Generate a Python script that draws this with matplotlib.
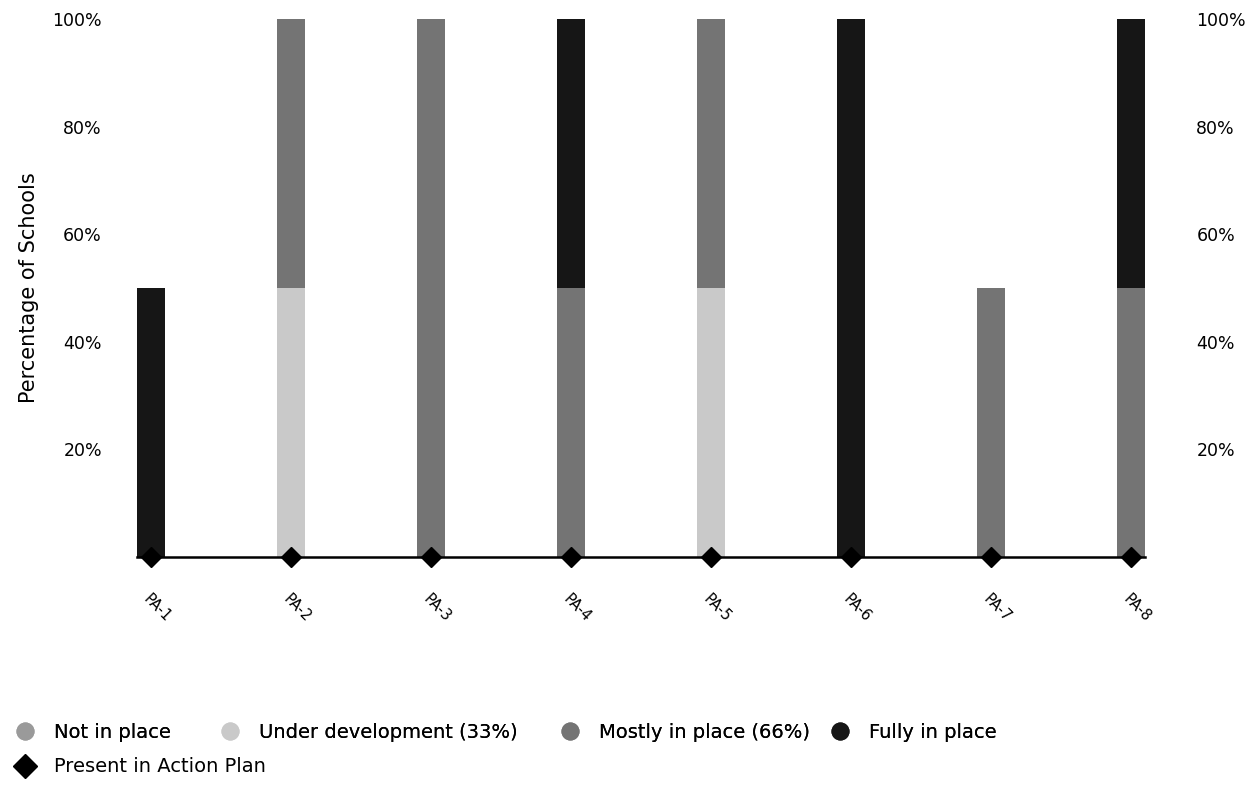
import numpy as np
import matplotlib.pyplot as plt
import matplotlib.transforms as mtransforms
from matplotlib.lines import Line2D

# --- Data ---
categories = ["PA-1", "PA-2", "PA-3", "PA-4", "PA-5", "PA-6", "PA-7", "PA-8"]
not_in_place = [0, 0, 0, 0, 0, 0, 0, 0]
under_development = [0, 50, 0, 0, 50, 0, 0, 0]
mostly_in_place = [0, 50, 100, 50, 50, 0, 50, 50]
fully_in_place = [50, 0, 0, 50, 0, 100, 0, 50]
action_plan = [0, 0, 0, 0, 0, 0, 0, 0]
y_ticks = [20, 40, 60, 80, 100]

series = [
    ("Not in place", not_in_place, "#9a9a9a"),
    ("Under development (33%)", under_development, "#c9c9c9"),
    ("Mostly in place (66%)", mostly_in_place, "#747474"),
    ("Fully in place", fully_in_place, "#161616"),
]

plt.rcParams['font.family'] = ['DejaVu Sans']

W, H = 1254, 790
fig = plt.figure(figsize=(W / 100, H / 100), dpi=100)
ax = fig.add_axes([0.109, 0.295, 0.804, 0.681])

x = np.arange(len(categories))
bottom = np.zeros(len(categories))
for name, vals, color in series:
    vals = np.array(vals, dtype=float)
    ax.bar(x, vals, width=0.2, bottom=bottom, color=color, edgecolor='none')
    bottom += vals

ax.plot(x, action_plan, linestyle='none', marker='D', markersize=10,
        color='black', clip_on=False, zorder=5)

ax.set_xlim(-0.1, len(categories) - 0.9)
ax.set_ylim(0, 100)
ax.set_yticks(y_ticks)
ax.set_yticklabels([f"{v}%" for v in y_ticks], fontsize=12.5)
ax.tick_params(axis='y', length=0, pad=25)

# right-hand copy of the percentage scale
ax2 = ax.twinx()
ax2.set_ylim(0, 100)
ax2.set_yticks(y_ticks)
ax2.set_yticklabels([f"{v}%" for v in y_ticks], fontsize=12.5)
ax2.tick_params(axis='y', length=0, pad=37)
for s in ['top', 'left', 'right', 'bottom']:
    ax2.spines[s].set_visible(False)

ax.set_xticks(x)
ax.set_xticklabels(categories, rotation=-45, ha='center', fontsize=10.5)
ax.tick_params(axis='x', length=0, pad=25)
shift = mtransforms.ScaledTranslation(6 / 100, 0, fig.dpi_scale_trans)
for lbl in ax.get_xticklabels():
    lbl.set_transform(lbl.get_transform() + shift)

for s in ['top', 'left', 'right']:
    ax.spines[s].set_visible(False)
ax.spines['bottom'].set_linewidth(1.8)

ax.set_ylabel("Percentage of Schools", fontsize=15)
ax.yaxis.set_label_coords(-0.097, 0.5)

# legend: one entry per slot so the spacing follows the original
fs = 14
marker_px = [25, 230, 570, 840]
for (name, _, color), mx in zip(series, marker_px):
    h = Line2D([], [], linestyle='none', marker='o', markersize=12, color=color)
    leg = fig.legend([h], [name], loc='center left',
                     bbox_to_anchor=((mx - 0.5 * fs * 100 / 72) / W, 1 - 732 / H),
                     frameon=False, fontsize=fs, borderpad=0, borderaxespad=0,
                     handlelength=1.0, handletextpad=1.0)
    fig.add_artist(leg)

fig.legend([Line2D([], [], linestyle='none', marker='D', markersize=12,
                   color='black')], ["Present in Action Plan"],
           loc='center left',
           bbox_to_anchor=((25 - 0.5 * fs * 100 / 72) / W, 1 - 767 / H),
           frameon=False, fontsize=fs, borderpad=0, borderaxespad=0,
           handlelength=1.0, handletextpad=1.0)

fig.savefig("out.png", dpi=100)
